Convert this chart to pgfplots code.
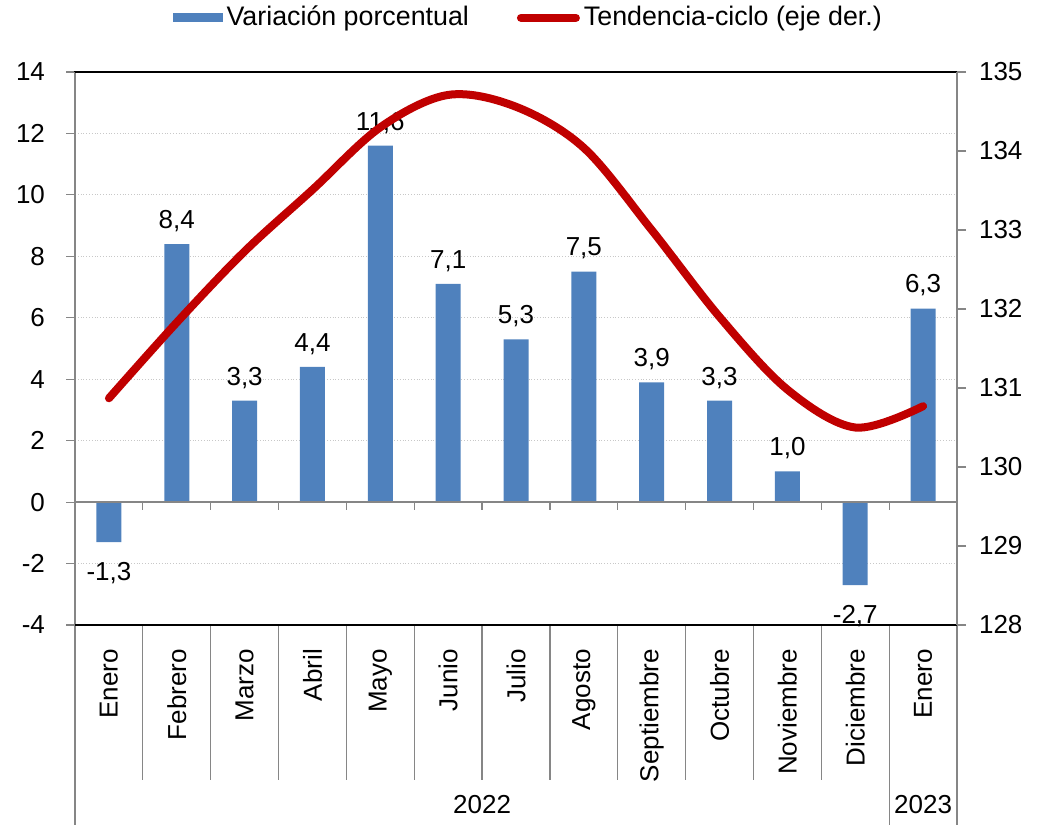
\documentclass[border=0pt]{standalone}
\usepackage{fontspec}
\setmainfont{Liberation Sans}
\usepackage{pgfplots}
\pgfplotsset{compat=1.18}

\definecolor{barblue}{HTML}{4F81BD}
\definecolor{trendred}{HTML}{C00000}
\definecolor{axisgray}{HTML}{868686}
\definecolor{gridgray}{HTML}{C8C8C8}

\pgfplotsset{
  base/.style={
    scale only axis, width=441pt, height=276.5pt,
    xmin=-0.5, xmax=12.5, clip=false,
    tick align=outside, major tick length=4.5pt,
    tick style={axisgray, line width=0.6pt},
    tick label style={font=\fontsize{13}{15}\selectfont},
    /pgf/number format/assume math mode=true,
  }
}

\begin{document}
\fontsize{13}{15}\selectfont
\begin{tikzpicture}
\begin{axis}[
  base,
  ymin=-4, ymax=14, ytick={-4,-2,...,14},
  ytick pos=left,
  yticklabel style={xshift=-6pt},
  xtick={0,...,12},
  xticklabels={Enero,Febrero,Marzo,Abril,Mayo,Junio,Julio,Agosto,Septiembre,Octubre,Noviembre,Diciembre,Enero},
  x tick style={draw=none},
  x tick label style={rotate=90, anchor=east, xshift=-3pt},
  ymajorgrids, major grid style={gridgray, densely dotted, line width=0.6pt},
  axis line style={black, line width=0.8pt},
  ybar, bar width=12.5pt,
  visualization depends on={y \as \rawy},
  nodes near coords={\pgfmathprintnumber[fixed, fixed zerofill, precision=1, use comma, assume math mode=true]{\pgfplotspointmeta}},
  nodes near coords align={vertical},
  every node near coord/.append style={font=\fontsize{13}{15}\selectfont, black, inner ysep=6pt,
    yshift={ifthenelse(\rawy<0,-4,0)}},
  legend columns=2,
  legend style={at={(0.515,1.098)}, anchor=center, draw=none, fill=none,
    font=\fontsize{13.4}{15}\selectfont,
    /tikz/every even column/.append style={column sep=22pt},
    inner sep=0pt},
]
\addplot[fill=barblue, draw=none,
  legend image code/.code={\fill[barblue] (0pt,-2.25pt) rectangle (25pt,2.25pt);}]
  coordinates {(0,-1.3) (1,8.4) (2,3.3) (3,4.4) (4,11.6) (5,7.1) (6,5.3)
               (7,7.5) (8,3.9) (9,3.3) (10,1.0) (11,-2.7) (12,6.3)};
\addlegendentry{Variación porcentual}
\addlegendimage{legend image code/.code={\draw[trendred, line width=4pt, line cap=round] (2pt,0pt) -- (29.5pt,0pt);}}
\addlegendentry{Tendencia-ciclo (eje der.)}

% zero line and its ticks
\draw[axisgray, line width=0.8pt] (axis cs:-0.5,0) -- (axis cs:12.5,0);
\pgfplotsinvokeforeach{0,...,11}{
  \draw[axisgray, line width=0.6pt] (axis cs:{#1+0.5},0) -- ++(0pt,-4pt);
}
% category separators below the axis
\pgfplotsinvokeforeach{0,...,10}{
  \draw[axisgray, line width=0.6pt] (axis cs:{#1+0.5},-4) -- ++(0pt,-77.5pt);
}
\draw[axisgray, line width=0.8pt] (axis cs:-0.5,14) -- (axis cs:-0.5,-4) -- ++(0pt,-100pt);
\draw[axisgray, line width=0.6pt] (axis cs:11.5,-4) -- ++(0pt,-100pt);
\draw[axisgray, line width=0.8pt] (axis cs:12.5,14) -- (axis cs:12.5,-4) -- ++(0pt,-100pt);
\draw[black, line width=0.8pt] (axis cs:-0.5,14) -- (axis cs:12.5,14);
\draw[black, line width=0.8pt] (axis cs:-0.5,-4) -- (axis cs:12.5,-4);
% year labels
\node[font=\fontsize{13}{15}\selectfont, inner sep=1pt] at ([yshift=-90pt]axis cs:5.5,-4) {2022};
\node[font=\fontsize{13}{15}\selectfont, inner sep=1pt] at ([yshift=-90pt]axis cs:12,-4) {2023};
% page size
\path ([shift={(-37.5pt,-100pt)}]rel axis cs:0,0) rectangle ([shift={(42pt,36pt)}]rel axis cs:1,1);
\end{axis}

\begin{axis}[
  base,
  ymin=128, ymax=135, ytick={128,...,135},
  axis y line*=right, axis x line=none,
  yticklabel style={xshift=2pt},
  y axis line style={axisgray, line width=0.8pt},
]
\addplot[trendred, line width=4pt, smooth, tension=0.55, line cap=round]
  coordinates {(0,130.87) (1,131.83) (2,132.73) (3,133.51) (4,134.30) (5,134.71)
               (6,134.56) (7,134.04) (8,133.00) (9,131.90) (10,130.98) (11,130.50) (12,130.77)};
\end{axis}
\end{tikzpicture}
\end{document}
